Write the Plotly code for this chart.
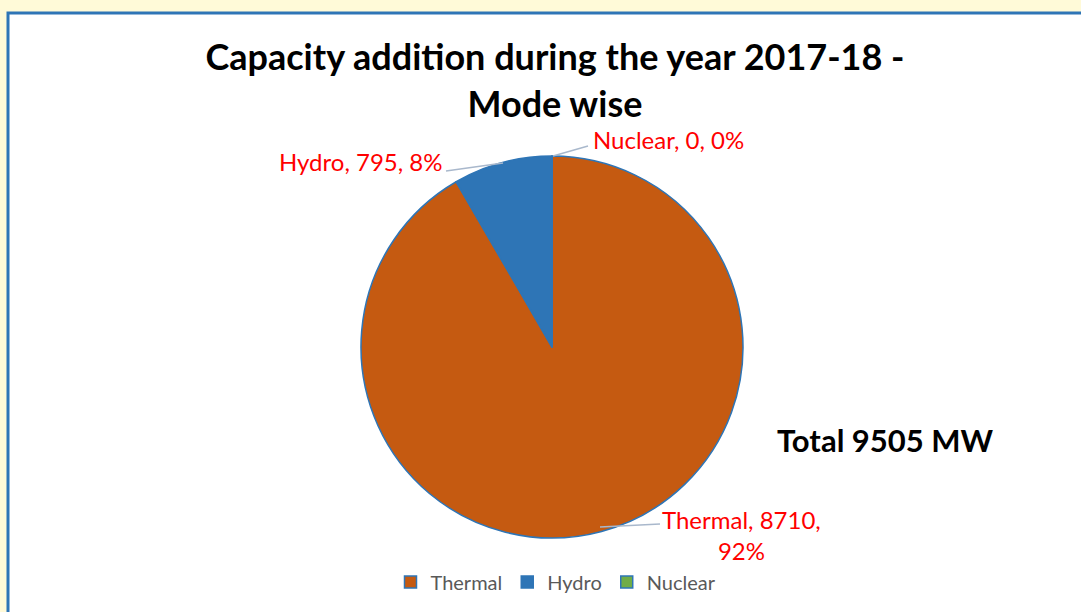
import plotly.graph_objects as go

labels = ["Thermal", "Hydro", "Nuclear"]
values = [8710, 795, 0]
pcts = ["92%", "8%", "0%"]
colors = ["#C55A11", "#2E75B6", "#70AD47"]
title_text = "Capacity addition during the year 2017-18 -<br>Mode wise"
total_text = "Total 9505 MW"

W, H = 1081, 612

def px(x):
    return x / W

def py(y):
    return 1 - y / H

cx, cy, r = 552, 347, 191
FONT = "Lato, 'Open Sans', sans-serif"

fig = go.Figure()
fig.add_trace(go.Pie(
    labels=labels,
    values=values,
    sort=False,
    direction="clockwise",
    rotation=0,
    textinfo="none",
    marker=dict(colors=colors, line=dict(color="#2E75B6", width=1.5)),
    domain=dict(x=[px(cx - r), px(cx + r)], y=[py(cy + r), py(cy - r)]),
    showlegend=True,
    hoverinfo="label+value+percent",
))

annots = []
lbl_font = dict(family=FONT, size=24, color="#FF0000")
# Hydro
annots.append(dict(x=px(444), y=py(162), xref="paper", yref="paper",
                   text=f"{labels[1]}, {values[1]}, {pcts[1]}", showarrow=False,
                   xanchor="right", yanchor="middle", font=lbl_font))
# Nuclear
annots.append(dict(x=px(591), y=py(140), xref="paper", yref="paper",
                   text=f"{labels[2]}, {values[2]}, {pcts[2]}", showarrow=False,
                   xanchor="left", yanchor="middle", font=lbl_font))
# Thermal
annots.append(dict(x=px(741), y=py(535), xref="paper", yref="paper",
                   text=f"{labels[0]}, {values[0]},<br>{pcts[0]}", showarrow=False,
                   xanchor="center", yanchor="middle", align="center", font=lbl_font))
# Total
annots.append(dict(x=px(885), y=py(440), xref="paper", yref="paper",
                   text=f"<b>{total_text}</b>", showarrow=False,
                   xanchor="center", yanchor="middle",
                   font=dict(family=FONT, size=31, color="#000000")))

line_col = "#A9B8CC"
shapes = [
    dict(type="rect", xref="paper", yref="paper", x0=px(8), x1=px(W + 10),
         y0=py(H + 10), y1=py(13), fillcolor="#FFFFFF",
         line=dict(color="#2E75B6", width=3), layer="below"),
    dict(type="line", xref="paper", yref="paper", x0=px(446), y0=py(171), x1=px(503), y1=py(163),
         line=dict(color=line_col, width=1.5)),
    dict(type="line", xref="paper", yref="paper", x0=px(553), y0=py(156), x1=px(588), y1=py(146),
         line=dict(color=line_col, width=1.5)),
    dict(type="line", xref="paper", yref="paper", x0=px(600), y0=py(527), x1=px(660), y1=py(524),
         line=dict(color=line_col, width=1.5)),
]

fig.update_layout(
    width=W, height=H,
    margin=dict(l=0, r=0, t=0, b=0),
    paper_bgcolor="#FFFAD8",
    plot_bgcolor="#FFFFFF",
    title=dict(text=f"<b>{title_text}</b>", x=px(555), xanchor="center",
               y=py(70), yanchor="middle",
               font=dict(family=FONT, size=36, color="#000000")),
    legend=dict(orientation="h", x=px(556), xanchor="center", y=py(582), yanchor="middle",
                font=dict(family=FONT, size=20, color="#595959"),
                bgcolor="rgba(0,0,0,0)", itemwidth=30, traceorder="normal"),
    annotations=annots,
    shapes=shapes,
)

fig.write_html("out.html", config={"displayModeBar": False},
               post_script="document.body.style.margin='0px';document.body.style.padding='0px';")
